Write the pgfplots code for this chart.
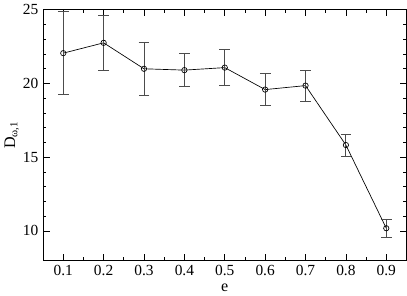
\documentclass[border=0pt]{standalone}
\usepackage{fontspec}
\setmainfont{Liberation Serif}
\usepackage{pgfplots}
\pgfplotsset{compat=1.18}
\begin{document}
\begin{tikzpicture}
\begin{axis}[
  scale only axis,
  width=271pt, height=187pt,
  xmin=0.05, xmax=0.95, ymin=8, ymax=25,
  xtick={0.1,0.2,0.3,0.4,0.5,0.6,0.7,0.8,0.9},
  xticklabels={0.1,0.2,0.3,0.4,0.5,0.6,0.7,0.8,0.9},
  ytick={10,15,20,25},
  yticklabels={10,15,20,25},
  minor x tick num=1, minor y tick num=4,
  tick align=inside,
  major tick length=5pt, minor tick length=2.5pt,
  tick style={black, line width=0.5pt},
  axis line style={line width=0.8pt},
  /pgf/number format/assume math mode=true,
  tick label style={font=\fontsize{11.5}{12}\selectfont},
  xlabel={e}, ylabel={D\textsubscript{ω,1}},
  label style={font=\fontsize{12}{13}\selectfont},
  xlabel style={yshift=1pt},
  ylabel style={yshift=-4pt},
]
\addplot[black, line width=0.5pt, mark=o, mark size=2pt, mark options={line width=0.5pt},
  error bars/.cd, y dir=both, y explicit,
  error bar style={black!70, line width=0.6pt},
  error mark options={rotate=90, mark size=4pt, black!70, line width=0.6pt}]
table[x=x, y=y, y error=e] {
x y e
0.1 22.05 2.8
0.2 22.75 1.88
0.3 20.99 1.82
0.4 20.9 1.13
0.5 21.07 1.23
0.6 19.58 1.07
0.7 19.85 1.05
0.8 15.82 0.74
0.9 10.18 0.6
};
\end{axis}
\end{tikzpicture}
\end{document}
